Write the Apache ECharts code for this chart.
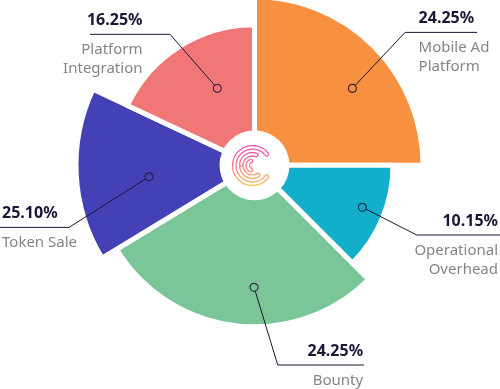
<!DOCTYPE html>
<html><head><meta charset="utf-8">
<script src="https://cdn.jsdelivr.net/npm/echarts@6/dist/echarts.min.js"></script>
<style>html,body{margin:0;padding:0;background:#fff}#c{width:500px;height:389px}</style>
</head><body><div id="c"></div>
<script>
// ---------------- data ----------------
const categories = ['Mobile Ad Platform', 'Operational Overhead', 'Bounty', 'Token Sale', 'Platform Integration'];
const nameLines = [['Mobile Ad', 'Platform'], ['Operational', 'Overhead'], ['Bounty'], ['Token Sale'], ['Platform', 'Integration']];
const percentLabels = [24.25, 10.15, 24.25, 25.10, 16.25];
// angular share of each slice as drawn in the picture (%)
const sliceShares = [25.0, 12.5, 28.8, 15.7, 18.0];

// ---------------- layout / style ----------------
const CENTER = [254.5, 165.3];
const sliceRadius = [168.5, 138.5, 161.5, 178.5, 140.5];
const colors = ['#F79140', '#12AECA', '#7BC698', '#4341B5', '#F07775'];
const markerSpec = [[0.576, 124.5], [0.473, 115.7], [0.436, 122], [0.444, 106.1], [0.602, 85.5]];
const elbowOffset = [[52.7, -56], [54.4, 27.7], [23.7, 77.7], [-80, 50.6], [-47.3, -54]];
const lineLen = [72, 84, 86.3, -70, -80];
const textAnchor = [[13.5, 'left'], [81.3, 'right'], [85.3, 'right'], [-67, 'left'], [-27.5, 'right']];
const FONT = "'Noto Sans', sans-serif";
const DARK = '#1b1537';

const cum = [];
sliceShares.reduce((a, v, i) => { cum[i] = a; return a + v; }, 0);
const markerAngle = sliceShares.map((s, i) => cum[i] + markerSpec[i][0] * s); // in % around the circle

function markerPixel(i) {
  const a = (90 - 3.6 * markerAngle[i]) * Math.PI / 180;
  const r = markerSpec[i][1];
  return [CENTER[0] + r * Math.cos(a), CENTER[1] - r * Math.sin(a)];
}

function makeLayout(i) {
  return function (params) {
    if (params.dataIndex !== 0) return {};
    const m = markerPixel(i);
    const e = [m[0] + elbowOffset[i][0], m[1] + elbowOffset[i][1]];
    const end = [e[0] + lineLen[i], e[1]];
    const dx = e[0] - m[0], dy = e[1] - m[1];
    const d = Math.sqrt(dx * dx + dy * dy);
    const s = [m[0] + dx / d * 3.8, m[1] + dy / d * 3.8];
    return {
      x: e[0] + textAnchor[i][0],
      y: e[1] - 24,
      align: textAnchor[i][1],
      verticalAlign: 'top',
      labelLinePoints: [s, e, end]
    };
  };
}

function sliceData(i, color, border) {
  return [
    { name: categories[i], value: sliceShares[i], itemStyle: { color: color, borderWidth: border } },
    { name: '', value: 100 - sliceShares[i], itemStyle: { color: 'rgba(0,0,0,0)', borderWidth: 0 },
      label: { show: false }, labelLine: { show: false } }
  ];
}

const series = [];
// visible slices
categories.forEach((c, i) => series.push({
  type: 'pie',
  z: 2,
  center: CENTER,
  radius: [0, sliceRadius[i]],
  startAngle: 90 - 3.6 * cum[i],
  clockwise: true,
  animation: false,
  silent: true,
  itemStyle: { borderColor: '#fff', borderWidth: 5 },
  emphasis: { disabled: true },
  label: { show: false },
  labelLine: { show: false },
  data: sliceData(i, colors[i], 5)
}));
// label layer (transparent slices on top so that leader lines are drawn over the fills)
categories.forEach((c, i) => series.push({
  type: 'pie',
  z: 5,
  center: CENTER,
  radius: [0, sliceRadius[i]],
  startAngle: 90 - 3.6 * cum[i],
  clockwise: true,
  avoidLabelOverlap: false,
  animation: false,
  silent: true,
  emphasis: { disabled: true },
  label: {
    show: true,
    position: 'outside',
    formatter: () => '{p|' + percentLabels[i].toFixed(2) + '%}\n{g| }\n' + nameLines[i].map(l => '{n|' + l + '}').join('\n'),
    rich: {
      p: { fontFamily: FONT, fontSize: 16, fontWeight: 700, color: DARK, lineHeight: 20 },
      g: { fontSize: 2, lineHeight: 10 },
      n: { fontFamily: FONT, fontSize: 15, color: '#858585', lineHeight: 19 }
    }
  },
  labelLine: { show: true, smooth: false, lineStyle: { color: DARK, width: 1 } },
  labelLayout: makeLayout(i),
  data: sliceData(i, 'rgba(0,0,0,0)', 0)
}));

series.push({
  type: 'scatter',
  coordinateSystem: 'polar',
  symbol: 'circle',
  symbolSize: 8,
  z: 10,
  silent: true,
  animation: false,
  data: markerSpec.map((ms, i) => ({
    value: [ms[1], markerAngle[i]],
    itemStyle: { color: colors[i], borderColor: DARK, borderWidth: 1.2 }
  }))
});

// logo (decoration)
const LC = [252.5, 165.5];
const grad = { type: 'linear', x: 0, y: 146, x2: 0, y2: 185, global: true,
  colorStops: [{ offset: 0, color: '#F24AB9' }, { offset: 0.5, color: '#F67A8A' }, { offset: 1, color: '#FDBE55' }] };
const D = Math.PI / 180;
function band(r, a0, a1) {
  return [
    { type: 'arc', z: 101, shape: { cx: LC[0], cy: LC[1], r: r, startAngle: -a0 * D, endAngle: -a1 * D, clockwise: false },
      style: { fill: null, stroke: grad, lineWidth: 4.8, lineCap: 'round' } },
    { type: 'arc', z: 102, shape: { cx: LC[0], cy: LC[1], r: r, startAngle: -a0 * D, endAngle: -a1 * D, clockwise: false },
      style: { fill: null, stroke: '#fff', lineWidth: 2.2, lineCap: 'round' } }
  ];
}
const logo = [
  { type: 'circle', z: 100, shape: { cx: CENTER[0], cy: CENTER[1], r: 35 }, style: { fill: '#fff' } }
].concat(band(18.2, 38, 322), band(11.2, 70, 175), band(11.2, 190, 300), band(4.8, 110, 250));

const chart = echarts.init(document.getElementById('c'), null, { renderer: 'canvas' });
chart.setOption({
  backgroundColor: '#fff',
  animation: false,
  polar: { center: CENTER, radius: 200 },
  angleAxis: { type: 'value', min: 0, max: 100, startAngle: 90, clockwise: true, show: false },
  radiusAxis: { type: 'value', min: 0, max: 200, show: false },
  graphic: logo,
  series: series
});
</script>
</body></html>
